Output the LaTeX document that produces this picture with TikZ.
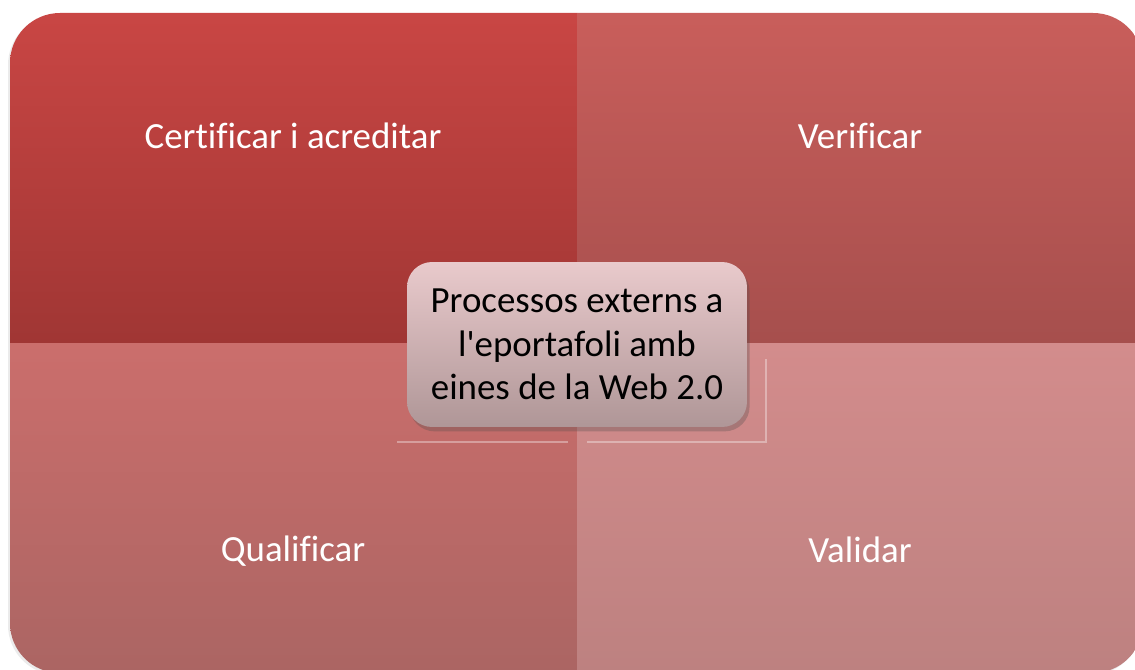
\documentclass[tikz,border=0pt]{standalone}
\usepackage{fontspec}
\setmainfont{Carlito}[Ligatures={NoCommon}]
\usetikzlibrary{shadows}
\definecolor{TLTop}{HTML}{C94644}
\definecolor{TLBot}{HTML}{A03634}
\definecolor{TRTop}{HTML}{C95E5B}
\definecolor{TRBot}{HTML}{A64F4D}
\definecolor{BLTop}{HTML}{CB6E6C}
\definecolor{BLBot}{HTML}{AB6563}
\definecolor{BRTop}{HTML}{D38C8C}
\definecolor{BRBot}{HTML}{BD8180}
\definecolor{HubTop}{HTML}{E9CACC}
\definecolor{HubBot}{HTML}{AF9697}

\begin{document}
\begin{tikzpicture}[x=0.02cm, y=-0.02cm,
  quad/.style={draw=none},
  lbl/.style={text=white, font=\fontsize{21}{25}\selectfont},
  hub/.style={rounded corners=0.5cm, minimum width=6.8cm, minimum height=3.3cm, align=center,
    top color=HubTop, bottom color=HubBot, font=\fontsize{21}{24.7}\selectfont,
    drop shadow={shadow xshift=1.5pt, shadow yshift=-2.5pt, opacity=.3, fill=black!70}},
  glint/.style={white, opacity=.35, line width=.6pt}
]
\path[use as bounding box, clip] (0,0) rectangle (1135,669);
\fill[white] (0,0) rectangle (1135,669);
% outer shadow
\fill[black!15, opacity=.5, rounded corners=1cm] (8,15) rectangle (1141,675);
\begin{scope}
  \clip[rounded corners=1cm] (10,13) rectangle (1143,673);
  \shade[quad, top color=TLTop, bottom color=TLBot] (10,13) rectangle (577,343);
  \shade[quad, top color=TRTop, bottom color=TRBot] (577,13) rectangle (1143,343);
  \shade[quad, top color=BLTop, bottom color=BLBot] (10,343) rectangle (577,673);
  \shade[quad, top color=BRTop, bottom color=BRBot] (577,343) rectangle (1143,673);
\end{scope}
\node[lbl] (cert) at (293,136) {Certificar i acreditar};
\node[lbl] (verif) at (860,136) {Verificar};
\node[lbl] (qual) at (293,551) {Qualificar};
\node[lbl] (valid) at (860,550) {Validar};
\draw[glint] (397,442) -- (568,442);
\draw[glint] (587,442) -- (766,442) -- (766,359);
\node[hub] (proc) at (577,344.5) {Processos externs a\\l\textquotesingle eportafoli amb\\eines de la Web 2.0};
\end{tikzpicture}
\end{document}
